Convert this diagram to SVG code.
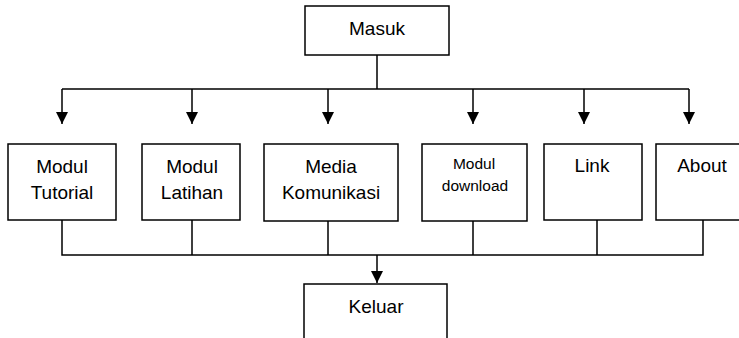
<svg xmlns="http://www.w3.org/2000/svg" width="739" height="338" viewBox="0 0 739 338">
<defs>
<marker id="ah" markerUnits="userSpaceOnUse" markerWidth="12" markerHeight="12" viewBox="0 0 12 12" refX="12" refY="6" orient="auto">
<path d="M0,0 L12,6 L0,12 Z" fill="#000"/>
</marker>
<style>
.box{fill:#fff;stroke:#000;stroke-width:1.5}
.ln{fill:none;stroke:#000;stroke-width:1.5}
.t{font-family:"Liberation Sans",Arial,sans-serif;font-size:19px;fill:#000;text-anchor:middle}
.s{font-size:15.5px}
</style>
</defs>
<rect width="739" height="338" fill="#fff"/>
<g id="connectors">
<path class="ln" d="M377,55 V89 M62,89 H689"/>
<path class="ln" d="M62,89 V124" marker-end="url(#ah)"/>
<path class="ln" d="M192,89 V124" marker-end="url(#ah)"/>
<path class="ln" d="M328,89 V124" marker-end="url(#ah)"/>
<path class="ln" d="M473,89 V124" marker-end="url(#ah)"/>
<path class="ln" d="M584,89 V124" marker-end="url(#ah)"/>
<path class="ln" d="M689,89 V124" marker-end="url(#ah)"/>
<path class="ln" d="M62,220 V255 H703 V220 M192,220 V255 M328,221 V255 M473,221 V255 M597,220 V255"/>
<path class="ln" d="M377,255 V283" marker-end="url(#ah)"/>
</g>
<g id="masuk"><rect class="box" x="305" y="6" width="144" height="49"/><text class="t" x="377" y="35">Masuk</text></g>
<g id="modul-tutorial"><rect class="box" x="8" y="144" width="108" height="76"/><text class="t" x="62" y="173">Modul</text><text class="t" x="62" y="199">Tutorial</text></g>
<g id="modul-latihan"><rect class="box" x="142" y="144" width="98" height="76"/><text class="t" x="192" y="173">Modul</text><text class="t" x="192" y="199">Latihan</text></g>
<g id="media-komunikasi"><rect class="box" x="264" y="144" width="134" height="77"/><text class="t" x="331" y="173">Media</text><text class="t" x="331" y="199">Komunikasi</text></g>
<g id="modul-download"><rect class="box" x="422" y="144" width="105" height="77"/><text class="t s" x="474" y="169">Modul</text><text class="t s" x="475" y="191">download</text></g>
<g id="link"><rect class="box" x="544" y="144" width="98" height="76"/><text class="t" x="592" y="172">Link</text></g>
<g id="about"><rect class="box" x="656" y="144" width="90" height="76"/><text class="t" x="702" y="172">About</text></g>
<g id="keluar"><rect class="box" x="304" y="284" width="143" height="70"/><text class="t" x="376" y="313">Keluar</text></g>
</svg>
